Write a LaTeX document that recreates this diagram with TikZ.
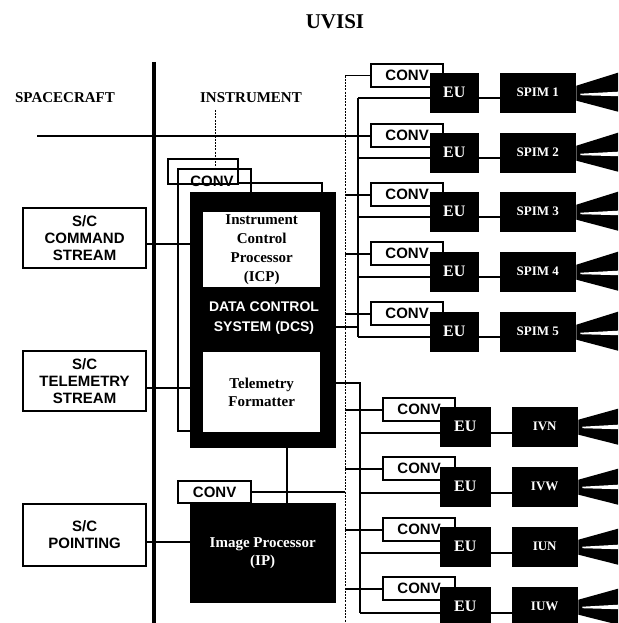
\documentclass[tikz,border=0pt]{standalone}
\usepackage{fontspec}
\setmainfont{Liberation Serif}
\setsansfont{Liberation Sans}
\usetikzlibrary{calc}
\begin{document}
\begin{tikzpicture}[x=1pt,y=-1pt,
  wire/.style={line width=1.8pt},
  dotline/.style={line width=1pt, dash pattern=on 2pt off 1.2pt},
  outl/.style={draw, line width=2.2pt, inner sep=0pt, anchor=north west},
  convbox/.style={outl, fill=white, minimum width=72pt, minimum height=23pt,
    font=\sffamily\bfseries\fontsize{15}{15}\selectfont},
  blk/.style={fill=black, draw=black, inner sep=0pt, anchor=north west, text=white,
    font=\bfseries\fontsize{13}{13}\selectfont},
  eubox/.style={blk, minimum width=48pt, minimum height=39pt, font=\bfseries\fontsize{16}{16}\selectfont},
  spimbox/.style={blk, minimum width=75pt, minimum height=39pt},
  scbox/.style={outl, fill=white, minimum width=123pt, minimum height=60pt, align=center,
    font=\sffamily\bfseries\fontsize{15}{17}\selectfont},
  hdr/.style={font=\bfseries\fontsize{15}{15}\selectfont},
  wbox/.style={fill=white, inner sep=0pt, anchor=north west, align=center,
    font=\bfseries\fontsize{15}{19}\selectfont},
  cone/.style={fill=black}
]
\path[use as bounding box] (0,0) rectangle (618,623);
\coordinate (R) at (618,0);

% titles
\node[font=\bfseries\fontsize{21}{21}\selectfont] (title) at (335,22) {UVISI};
\node[hdr] (sc) at (65,98) {SPACECRAFT};
\node[hdr] (ins) at (251,98) {INSTRUMENT};

% spacecraft / instrument boundary
\coordinate (ttop) at (154,62);
\coordinate (tbot) at (154,623);

% dotted CONV power line
\coordinate (dtop) at (345,75.6);
\coordinate (dbot) at (345,623);
\draw[dotline] (dtop) -- (dbot);

% stacked boxes behind DPU
\node[outl, minimum width=70pt, minimum height=25pt] (convA) at (167,158) {};
\node[outl, minimum width=73pt, minimum height=262pt] (convB) at (177,168) {};
\coordinate (dv) at (215,110);
\draw[dotline] (dv) -- (dv |- convB.north);
\coordinate (cb1) at (237,183);
\coordinate (cb2) at (322,183);
\coordinate (cb3) at (322,192);
\draw[wire] (cb1) -- (cb2) -- (cb3);
\node[font=\sffamily\bfseries\fontsize{15}{15}\selectfont] (convAtxt) at (212,181) {CONV};

% left boxes
\node[scbox] (cmd) at (22,207) {S/C\\COMMAND\\STREAM};
\node[scbox] (tel) at (22,350) {S/C\\TELEMETRY\\STREAM};
\node[scbox, minimum height=62pt] (pnt) at (22,503) {S/C\\POINTING};

% DPU
\node[blk, minimum width=145pt, minimum height=255pt] (dpu) at (190,192) {};
\node[wbox, minimum width=117pt, minimum height=75pt] (icp) at (203,212)
  {Instrument\\Control\\Processor\\(ICP)};
\node[text=white, align=center, font=\sffamily\bfseries\fontsize{14}{20}\selectfont] (dcs)
  at (264,318) {DATA CONTROL\\SYSTEM (DCS)};
\node[wbox, minimum width=117pt, minimum height=80pt, font=\bfseries\fontsize{15}{18}\selectfont] (tfm)
  at (203,352) {Telemetry\\Formatter};

% IP
\node[convbox, minimum width=73pt, minimum height=22pt] (ipc) at (177,480) {CONV};
\node[blk, minimum width=145pt, minimum height=99pt, align=center,
  font=\bfseries\fontsize{15}{18}\selectfont] (ip) at (190,503) {Image Processor\\(IP)};

% boundary line on top
\draw[line width=4pt] (ttop) -- (tbot);

% left connections
\coordinate (cmdo) at (145,244);
\draw[wire] (cmdo) -- (cmdo -| dpu.west);
\coordinate (telo) at (145,388);
\draw[wire] (telo) -- (telo -| dpu.west);
\coordinate (pnto) at (145,542);
\draw[wire] (pnto) -- (pnto -| ip.west);
\coordinate (v1) at (287,447);
\draw[wire] (v1) -- (v1 |- ip.north);
\draw[wire] (ipc.east) -- (ipc.east -| dtop);

% upper SPIM chain
\foreach \i/\ct/\et in {1/63/73, 2/123/133, 3/182/192, 4/241/252, 5/301/312} {
  \node[convbox] (c\i) at (370,\ct) {CONV};
  \node[eubox] (e\i) at (430,\et) {EU};
  \node[spimbox] (s\i) at (500,\et) {SPIM \i};
  \coordinate (b\i) at (358,\et+25);
  \draw[wire] (b\i) -- (b\i -| e\i.west);
  \draw[wire] (b\i -| e\i.east) -- (b\i -| s\i.west);
  \fill[cone] ($(s\i.east)+(1,-7)$) -- ($(s\i.east -| R)+(0,-20)$)
     -- ($(s\i.east -| R)+(0,19)$) -- ($(s\i.east)+(1,8)$) -- cycle;
  \fill[white] ($(s\i.east)+(5,1)$) -- ($(s\i.east -| R)+(0,-1)$)
     -- ($(s\i.east -| R)+(0,3.5)$) -- ($(s\i.east)+(5,2.5)$) -- cycle;
}
\draw[wire] (b1) -- (b5);
\draw[wire] (c1.west -| dtop) -- (c1.west);
\foreach \i in {3,4,5} { \draw[wire] (c\i.west -| dtop) -- (c\i.west); }
\coordinate (hl) at (37,0);
\draw[wire] (c2.west -| hl) -- (c2.west);
\coordinate (d1) at (335,327);
\draw[wire] (d1) -- (d1 -| b1);

% lower imager chain
\coordinate (tf) at (335,383);
\coordinate (g0) at (360,383);
\foreach \i/\nm/\ct/\et in {1/IVN/397/407, 2/IVW/456/467, 3/IUN/517/527, 4/IUW/576/587} {
  \node[convbox] (l\i) at (382,\ct) {CONV};
  \node[eubox, minimum width=50pt] (f\i) at (440,\et) {EU};
  \node[spimbox, minimum width=65pt] (t\i) at (512,\et) {\nm};
  \coordinate (g\i) at (360,\et+26);
  \draw[wire] (g\i) -- (g\i -| f\i.west);
  \draw[wire] (g\i -| f\i.east) -- (g\i -| t\i.west);
  \draw[wire] (l\i.west -| dtop) -- (l\i.west);
  \fill[cone] ($(t\i.east)+(1,-7)$) -- ($(t\i.east -| R)+(0,-18)$)
     -- ($(t\i.east -| R)+(0,18)$) -- ($(t\i.east)+(1,8)$) -- cycle;
  \fill[white] ($(t\i.east)+(5,0)$) -- ($(t\i.east -| R)+(0,-2)$)
     -- ($(t\i.east -| R)+(0,2.5)$) -- ($(t\i.east)+(5,1.5)$) -- cycle;
}
\draw[wire] (tf) -- (g0) -- (g4);
\end{tikzpicture}
\end{document}
